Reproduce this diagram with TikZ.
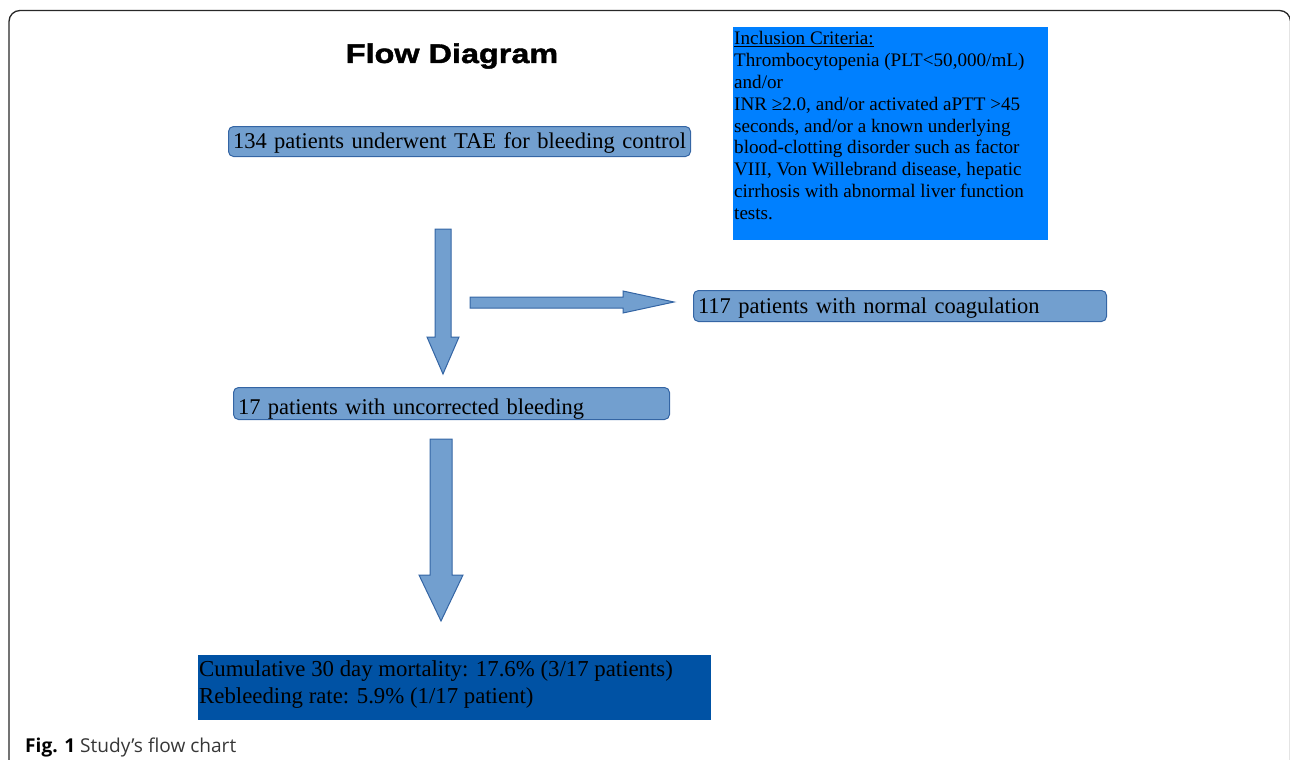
\documentclass[tikz,border=0pt]{standalone}
\usepackage{fontspec}
\setmainfont{Liberation Serif}
\newfontfamily\headfont[FakeStretch=1.2,FakeBold=1.6]{Liberation Sans}
\newfontfamily\capfont{Open Sans}
\usetikzlibrary{positioning}
\definecolor{boxfill}{RGB}{114,159,207}
\definecolor{boxline}{RGB}{52,101,164}
\definecolor{critfill}{RGB}{0,128,255}
\definecolor{resfill}{RGB}{0,82,164}
\definecolor{framegray}{RGB}{40,40,40}
\definecolor{capgray}{RGB}{55,55,55}
\tikzset{
  flowbox/.style n args={3}{draw=boxline, fill=boxfill, line width=1pt, rounded corners=5pt,
    anchor=north west, inner xsep=4.5pt, inner ysep=0pt, align=left,
    text width=#1, text height=#2, text depth=#3, font=\fontsize{22.5}{26}\selectfont},
  critbox/.style={fill=critfill, anchor=north west, inner xsep=1pt, inner ysep=4pt,
    font=\fontsize{19.1}{21.9}\selectfont},
  resbox/.style={fill=resfill, anchor=north west, inner xsep=1pt, inner ysep=5.5pt,
    font=\fontsize{22.8}{27}\selectfont},
  blockarrow/.style={draw=boxline, fill=boxfill, line width=1pt},
}
\begin{document}
\begin{tikzpicture}[x=1pt,y=-1pt]
\useasboundingbox (0,0) rectangle (1290,760);
\clip (0,0) rectangle (1290,760);
% frame
\draw[framegray, line width=1.3pt, rounded corners=11pt] (9,10.5) rectangle (1290.5,800);
\node[anchor=base, inner sep=0pt, font=\headfont\bfseries\fontsize{27}{30}\selectfont] (title) at (452,63) {Flow Diagram};

\node[flowbox={453pt}{22pt}{8pt}] (tae) at (228,126) {\mbox{134 patients underwent TAE for bleeding control}};
\node[flowbox={404pt}{23pt}{8pt}] (normal) at (693,290) {\mbox{117 patients with normal coagulation}};
\node[flowbox={427pt}{27pt}{5pt}] (uncorr) at (233,387) {\mbox{17 patients with uncorrected bleeding}};

\node[critbox] (crit) at (733,27) {\parbox[b][205pt][t]{313pt}{\raggedright
  \underline{Inclusion Criteria:}\\
  Thrombocytopenia (PLT<50,000/mL)\\
  and/or\\
  INR ≥2.0, and/or activated aPTT >45\\
  seconds, and/or a known underlying\\
  blood-clotting disorder such as factor\\
  VIII, Von Willebrand disease, hepatic\\
  cirrhosis with abnormal liver function\\
  tests.}};

\node[resbox] (result) at (198,655) {\parbox[b][54pt][t]{511pt}{\raggedright
  Cumulative 30 day mortality: 17.6\% (3/17 patients)\\
  Rebleeding rate: 5.9\% (1/17 patient)}};

% block arrows
\draw[blockarrow] (435,229) coordinate (s1) --++(16,0) --++(0,108) --++(8,0)
  --(443,374) coordinate (t1) --(427,337) --++(8,0) --cycle;
\draw[blockarrow] (470,297) coordinate (s2) --++(153,0) --++(0,-6)
  --(674,302) coordinate (t2) --(623,313) --++(0,-5) --(470,308) --cycle;
\draw[blockarrow] (430,439) coordinate (s3) --++(22,0) --++(0,136) --++(11,0)
  --(441,621) coordinate (t3) --(419,575) --++(11,0) --cycle;

\node[anchor=base west, inner sep=0pt, text=capgray, font=\capfont\fontsize{19.1}{22}\selectfont] (caption) at (25,752) {\textcolor{black}{\textbf{Fig. 1}} Study’s flow chart};
\end{tikzpicture}
\end{document}
